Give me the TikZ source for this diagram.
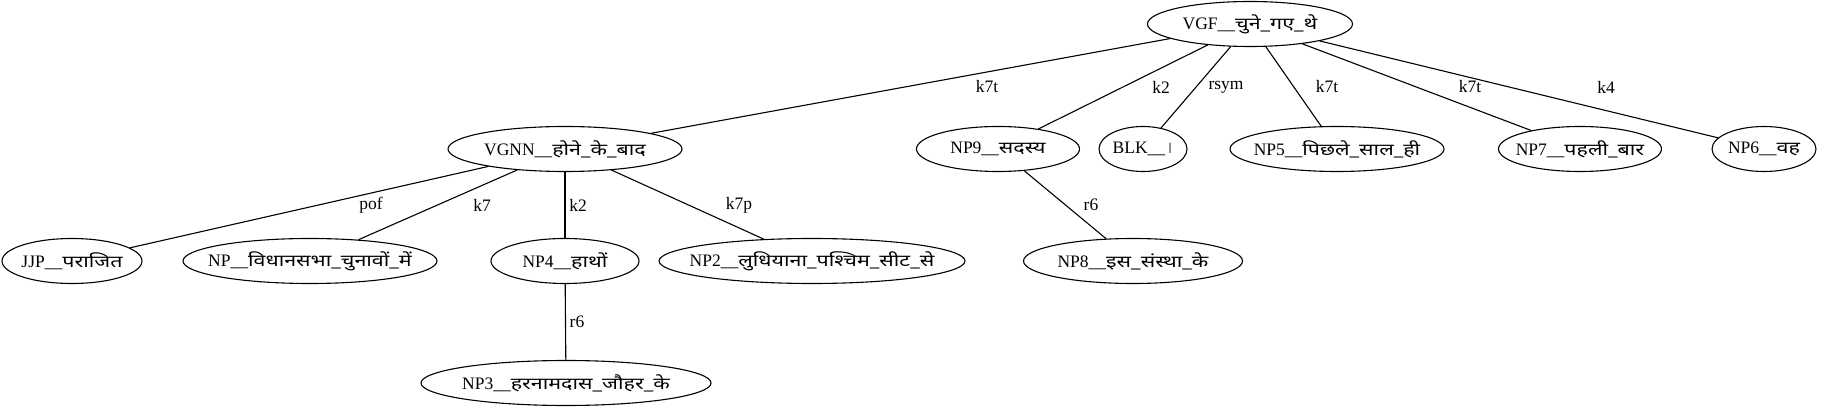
\documentclass[tikz,border=0pt]{standalone}
\usepackage{fontspec}
\setmainfont{Liberation Serif}
\newfontfamily\deva[Script=Devanagari, FakeStretch=1.3]{Noto Sans}
\usetikzlibrary{shapes.geometric}
\newcommand\hn[1]{{\deva\fontsize{16.5}{18}\selectfont #1}}
\newcommand\toktext[2]{\makebox[0pt]{#1\_\_\hn{#2}}} % chu giua elip
\tikzset{
  tok/.style={draw, ellipse, line width=1.1pt, minimum height=45pt, inner sep=0pt, font=\fontsize{17.5}{20}\selectfont},
  lbl/.style={font=\fontsize{17.5}{20}\selectfont, inner sep=1pt},
  dep/.style={line width=1.1pt}
}
\begin{document}
\begin{tikzpicture}[x=1pt, y=-1pt, line join=round, line cap=round]
  \useasboundingbox (0,0) rectangle (1843,411);
  \def\ya{24} \def\yb{149} \def\yc{261} \def\yd{383} % cac hang
  % goc
  \node[tok, minimum width=205pt] (vgf) at (1250,\ya) {\toktext{VGF}{चुने\_गए\_थे}};
  % hang 2
  \node[tok, minimum width=234pt] (vgnn) at (565,\yb) {\toktext{VGNN}{होने\_के\_बाद}};
  \node[tok, minimum width=163pt] (np9) at (998,\yb) {\toktext{NP9}{सदस्य}};
  \node[tok, minimum width=88pt] (blk) at (1143,\yb) {\toktext{BLK}{\textcolor{gray}{।}}};
  \node[tok, minimum width=214pt] (np5) at (1337,\yb) {\toktext{NP5}{पिछले\_साल\_ही}};
  \node[tok, minimum width=163pt] (np7) at (1580,\yb) {\toktext{NP7}{पहली\_बार}};
  \node[tok, minimum width=104pt] (np6) at (1764,\yb) {\toktext{NP6}{वह}};
  % hang 3
  \node[tok, minimum width=140pt] (jjp) at (72,\yc) {\toktext{JJP}{पराजित}};
  \node[tok, minimum width=254pt] (np) at (310,\yc) {\toktext{NP}{विधानसभा\_चुनावों\_में}};
  \node[tok, minimum width=148pt] (np4) at (565,\yc) {\toktext{NP4}{हाथों}};
  \node[tok, minimum width=306pt] (np2) at (812,\yc) {\toktext{NP2}{लुधियाना\_पश्चिम\_सीट\_से}};
  \node[tok, minimum width=219pt] (np8) at (1133,\yc) {\toktext{NP8}{इस\_संस्था\_के}};
  % hang 4
  \node[tok, minimum width=290pt] (np3) at (566,\yd) {\toktext{NP3}{हरनामदास\_जौहर\_के}};
  % canh
  \draw[dep] (vgf) -- (vgnn); \node[lbl] (l1) at (987,87) {k7t};
  \draw[dep] (vgf) -- (np9); \node[lbl] (l2) at (1161,87) {k2};
  \draw[dep] (vgf) -- (blk); \node[lbl] (l3) at (1226,87) {rsym};
  \draw[dep] (vgf) -- (np5); \node[lbl] (l4) at (1327,87) {k7t};
  \draw[dep] (vgf) -- (np7); \node[lbl] (l5) at (1470,87) {k7t};
  \draw[dep] (vgf) -- (np6); \node[lbl] (l6) at (1606,87) {k4};
  \draw[dep] (vgnn) -- (jjp); \node[lbl] (l7) at (371,205) {pof};
  \draw[dep] (vgnn) -- (np); \node[lbl] (l8) at (482,205) {k7};
  \draw[dep] (vgnn) -- (np4); \node[lbl] (l9) at (578,205) {k2};
  \draw[dep] (vgnn) -- (np2); \node[lbl] (l10) at (739,205) {k7p};
  \draw[dep] (np9) -- (np8); \node[lbl] (l11) at (1091,205) {r6};
  \draw[dep] (np4) -- (np3); \node[lbl] (l12) at (577,322) {r6};
\end{tikzpicture}
\end{document}
